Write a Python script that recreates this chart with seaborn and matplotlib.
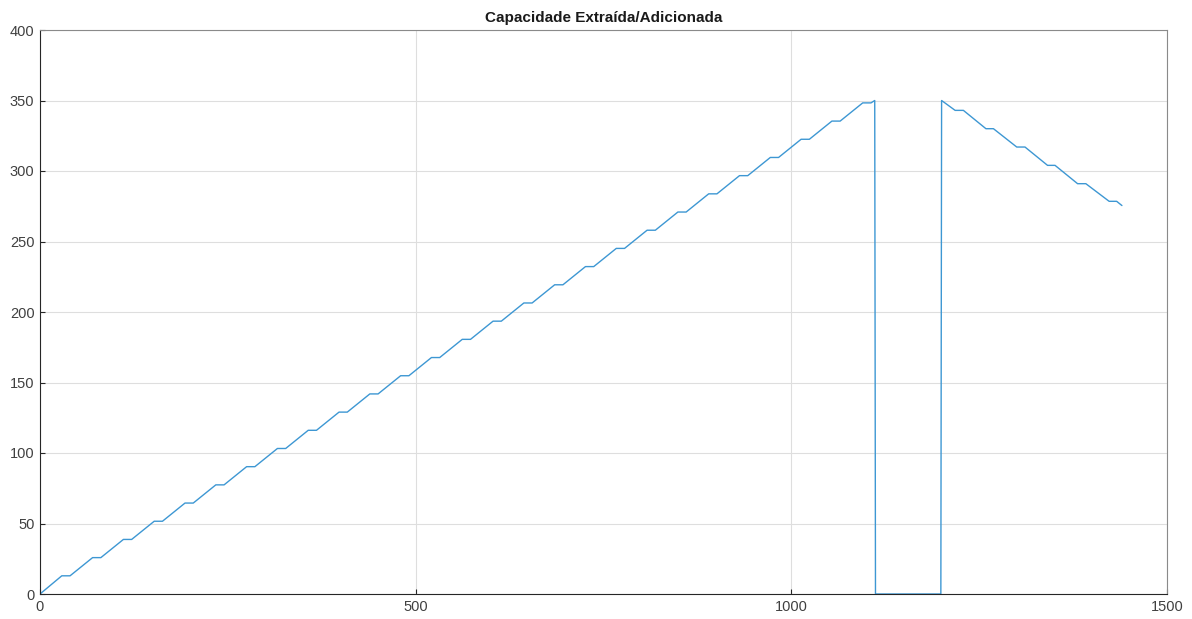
import matplotlib
matplotlib.use("Agg")
import matplotlib.pyplot as plt
import seaborn as sns
import pandas as pd

# Vertices of the curve (time, capacity)
rise_x = [0, 29, 40, 70, 81, 111, 122, 152, 163, 193, 204, 234, 245, 275, 286,
          316, 327, 357, 368, 398, 409, 439, 450, 480, 491, 521, 532, 562, 573,
          603, 614, 644, 655, 685, 696, 726, 737, 767, 778, 808, 819, 849, 860,
          890, 901, 931, 942, 972, 983, 1013, 1024, 1054, 1065, 1095, 1106, 1111]
rise_y = [0, 12.9, 12.9, 25.8, 25.8, 38.7, 38.7, 51.6, 51.6, 64.5, 64.5, 77.4, 77.4,
          90.3, 90.3, 103.2, 103.2, 116.1, 116.1, 129.0, 129.0, 141.9, 141.9,
          154.8, 154.8, 167.7, 167.7, 180.6, 180.6, 193.5, 193.5, 206.4, 206.4,
          219.3, 219.3, 232.2, 232.2, 245.1, 245.1, 258.0, 258.0, 270.9, 270.9,
          283.8, 283.8, 296.7, 296.7, 309.6, 309.6, 322.5, 322.5, 335.4, 335.4,
          348.3, 348.3, 350.0]
gap_x = [1112, 1199]
gap_y = [0, 0]
fall_x = [1200, 1218, 1229, 1259, 1269, 1300, 1311, 1341, 1351, 1381, 1392,
          1423, 1433, 1440]
fall_y = [350, 343, 343, 330, 330, 317, 317, 304, 304, 291, 291, 278.5, 278.5,
          275.5]

title = "Capacidade Extraída/Adicionada"

df = pd.DataFrame({
    "t": rise_x + gap_x + fall_x,
    "cap": rise_y + gap_y + fall_y,
})

sns.set_theme(style="whitegrid")
plt.rcParams["font.family"] = ["Liberation Sans", "DejaVu Sans"]

fig = plt.figure(figsize=(11.92, 6.19), dpi=100)
ax = fig.add_axes([40 / 1192, 25 / 619, 1127 / 1192, 564 / 619])

sns.lineplot(data=df, x="t", y="cap", sort=False, estimator=None,
             color="#3d97d3", linewidth=1.0, ax=ax)

ax.set_xlim(0, 1500)
ax.set_ylim(0, 400)
ax.set_xticks([0, 500, 1000, 1500])
ax.set_yticks(range(0, 401, 50))
ax.set_xlabel("")
ax.set_ylabel("")
ax.set_title(title, fontsize=11, fontweight="bold", color="#1a1a1a", pad=6)

ax.set_facecolor("white")
ax.grid(True, color="#dedede", linewidth=0.8)
for name, s in ax.spines.items():
    s.set_visible(True)
    s.set_linewidth(0.8)
    s.set_color("#262626" if name in ("left", "bottom") else "#8a8a8a")
ax.tick_params(axis="both", direction="in", length=3.5, width=0.8,
               colors="#262626", labelsize=10.5, pad=4,
               top=False, right=False, bottom=True, left=True)
ax.tick_params(axis="both", labelcolor="#404040")

fig.savefig("out.png", dpi=100, facecolor="white")
